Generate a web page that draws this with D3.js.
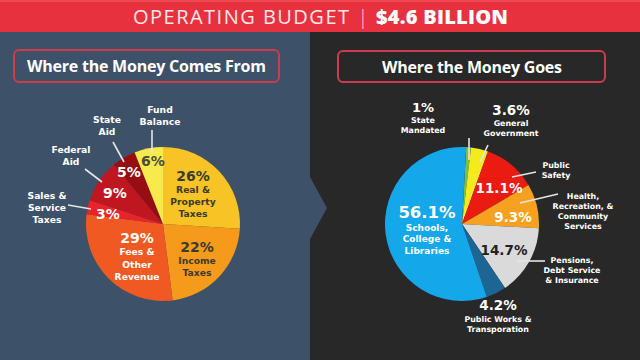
<!DOCTYPE html>
<html><head><meta charset="utf-8">
<script src="https://cdn.jsdelivr.net/npm/d3@7"></script>
<style>html,body{margin:0;padding:0;background:#282828;}svg{display:block;}</style>
</head><body>
<svg id="c" width="640" height="360"></svg>
<script>
// ---------- DATA ----------
const titleLight = "OPERATING BUDGET";
const titleBold = "$4.6 BILLION";
const leftTitle = "Where the Money Comes From";
const rightTitle = "Where the Money Goes";

const sourceNames = ["Real & Property Taxes","Income Taxes","Fees & Other Revenue","Sales & Service Taxes","Federal Aid","State Aid","Fund Balance"];
const sourceValues = [26, 22, 29, 3, 9, 5, 6];
const sourceLabels = ["26%","22%","29%","3%","9%","5%","6%"];

const useNames = ["State Mandated","General Government","Public Safety","Health, Recreation, & Community Services","Pensions, Debt Service & Insurance","Public Works & Transporation","Schools, College & Libraries"];
const useValues = [1, 3.6, 11.1, 9.3, 14.7, 4.2, 56.1];
const useLabels = ["1%","3.6%","11.1%","9.3%","14.7%","4.2%","56.1%"];

// ---------- STYLE / LAYOUT ----------
const W = 640, H = 360;
const TFONT = "'Open Sans', 'DejaVu Sans', sans-serif";
const LFONT = "'DejaVu Sans', sans-serif";
const ASC = 0.95, DESC = 0.245;
const sourceColors = ["#f7c325","#f59a1b","#f05a22","#e8232a","#c01620","#960e14","#f8ea4c"];
const useColors = ["#7bc043","#f3eb1c","#ea1b10","#f6a120","#dadada","#1d6593","#14a7ea"];

const svg = d3.select("#c");

// backgrounds
svg.append("rect").attr("x",0).attr("y",0).attr("width",W).attr("height",H).attr("fill","#282828");
svg.append("rect").attr("x",0).attr("y",0).attr("width",310).attr("height",H).attr("fill","#3d5169");
svg.append("path").attr("d","M309,175 L327,208 L309,241 Z").attr("fill","#3d5169");
svg.append("rect").attr("x",0).attr("y",0).attr("width",W).attr("height",32).attr("fill","#e8313f");
svg.append("rect").attr("x",0).attr("y",0).attr("width",W).attr("height",2).attr("fill","#ee4a55");

// header
svg.append("text").attr("x",133).attr("y",23.5).attr("font-family",TFONT).attr("font-size",20)
  .attr("font-weight",400).attr("fill","#fde8ea").attr("textLength",216).attr("lengthAdjust","spacing").text(titleLight);
svg.append("text").attr("x",363).attr("y",24).attr("font-family",TFONT).attr("font-size",21)
  .attr("font-weight",300).attr("fill","#f7c9cd").attr("text-anchor","middle").text("|");
svg.append("text").attr("x",376).attr("y",23.5).attr("font-family",TFONT).attr("font-size",20)
  .attr("font-weight",800).attr("fill","#ffffff").attr("textLength",132).attr("lengthAdjust","spacing").text(titleBold);

// title boxes
function titleBox(x,y,w,h,txt,tx,tw){
  svg.append("rect").attr("x",x).attr("y",y).attr("width",w).attr("height",h).attr("rx",5)
    .attr("fill","none").attr("stroke","#cf3a4c").attr("stroke-width",2);
  svg.append("text").attr("x",tx).attr("y",y+h/2+6).attr("font-family",TFONT).attr("font-size",16)
    .attr("font-weight",700).attr("fill","#ffffff").attr("textLength",tw).attr("lengthAdjust","spacing").text(txt);
}
titleBox(14,50,265,32,leftTitle,27,239);
titleBox(338,51,267,31,rightTitle,382,180);

// pies
function drawPie(cx,cy,r,values,colors,startAngle){
  const pie = d3.pie().sort(null).value(d=>d).startAngle(startAngle).endAngle(startAngle+2*Math.PI);
  const arc = d3.arc().innerRadius(0).outerRadius(r);
  const g = svg.append("g").attr("transform",`translate(${cx},${cy})`);
  g.selectAll("path").data(pie(values)).join("path").attr("d",arc).attr("fill",(d,i)=>colors[i]);
  return g;
}
const L = {cx:163, cy:224, r:77};
const R = {cx:462, cy:224, r:77};
drawPie(L.cx,L.cy,L.r,sourceValues,sourceColors,0);
drawPie(R.cx,R.cy,R.r,useValues,useColors,0.055);

// multi-line label block: lines [{t, s, gap}]; spacing never lets line boxes overlap
function block(x,y,lines,fill){
  let yy = y, prev = null;
  lines.forEach((ln,i)=>{
    if(i>0){
      const need = prev.s*DESC + ln.s*ASC + 0.3;
      yy += Math.max(ln.gap, need);
    }
    svg.append("text").attr("x",x).attr("y",yy).attr("text-anchor","middle")
      .attr("font-family",LFONT).attr("font-weight",700).attr("font-size",ln.s)
      .attr("fill",fill).text(ln.t);
    prev = ln;
  });
}
function leader(x1,y1,x2,y2){
  svg.append("line").attr("x1",x1).attr("y1",y1).attr("x2",x2).attr("y2",y2)
    .attr("stroke","#e6e6e6").attr("stroke-width",1.6);
}

// left pie labels
const dark = "#3b3a30";
const PL = 14, SL = 9.2;
block(193,181,[{t:sourceLabels[0],s:PL},{t:"Real &",s:SL,gap:11.5},{t:"Property",s:SL,gap:12},{t:"Taxes",s:SL,gap:12}],dark);
block(197,252,[{t:sourceLabels[1],s:PL},{t:"Income",s:SL,gap:11},{t:"Taxes",s:SL,gap:12}],dark);
block(137,243,[{t:sourceLabels[2],s:PL},{t:"Fees &",s:SL,gap:11.5},{t:"Other",s:SL,gap:12.5},{t:"Revenue",s:SL,gap:12.5}],"#ffffff");
block(108,219,[{t:sourceLabels[3],s:PL}],"#ffffff");
block(115,198,[{t:sourceLabels[4],s:PL}],"#ffffff");
block(129,177,[{t:sourceLabels[5],s:PL}],"#ffffff");
block(153,166,[{t:sourceLabels[6],s:PL}],"#4a4a3a");

block(160,113,[{t:"Fund",s:SL},{t:"Balance",s:SL,gap:12}],"#ffffff");
block(107,123,[{t:"State",s:SL},{t:"Aid",s:SL,gap:12}],"#ffffff");
block(71,153,[{t:"Federal",s:SL},{t:"Aid",s:SL,gap:12}],"#ffffff");
block(47,199,[{t:"Sales &",s:SL},{t:"Service",s:SL,gap:12},{t:"Taxes",s:SL,gap:12}],"#ffffff");
leader(152,130,152,153);
leader(113,142,124,162);
leader(85,169,102,182);
leader(68,205,91,209);

// right pie labels
const PR = 13.5, SR = 7.9;
block(427,218,[{t:useLabels[6],s:16.5},{t:"Schools,",s:9,gap:11},{t:"College &",s:9,gap:11.5},{t:"Libraries",s:9,gap:11.5}],"#ffffff");
block(499,193,[{t:useLabels[2],s:PR}],"#ffffff");
block(513,222,[{t:useLabels[3],s:PR}],"#ffffff");
block(504,255,[{t:useLabels[4],s:PR}],"#222222");
block(423,112,[{t:useLabels[0],s:13},{t:"State",s:SR,gap:10},{t:"Mandated",s:SR,gap:10}],"#ffffff");
block(511,115,[{t:useLabels[1],s:PR},{t:"General",s:SR,gap:11},{t:"Government",s:SR,gap:10}],"#ffffff");
block(556,168,[{t:"Public",s:SR},{t:"Safety",s:SR,gap:10}],"#ffffff");
block(583,199,[{t:"Health,",s:SR},{t:"Recreation, &",s:SR,gap:10},{t:"Community",s:SR,gap:10},{t:"Services",s:SR,gap:10}],"#ffffff");
block(572,263,[{t:"Pensions,",s:SR},{t:"Debt Service",s:SR,gap:10},{t:"& Insurance",s:SR,gap:10}],"#ffffff");
block(498,310,[{t:useLabels[5],s:PR},{t:"Public Works &",s:SR,gap:12},{t:"Transporation",s:SR,gap:10}],"#ffffff");
leader(469,138,469,160);
leader(488,145,480,162);
leader(512,177,536,172);
leader(520,203,558,194);
leader(517,261,545,261);
</script>
</body></html>
